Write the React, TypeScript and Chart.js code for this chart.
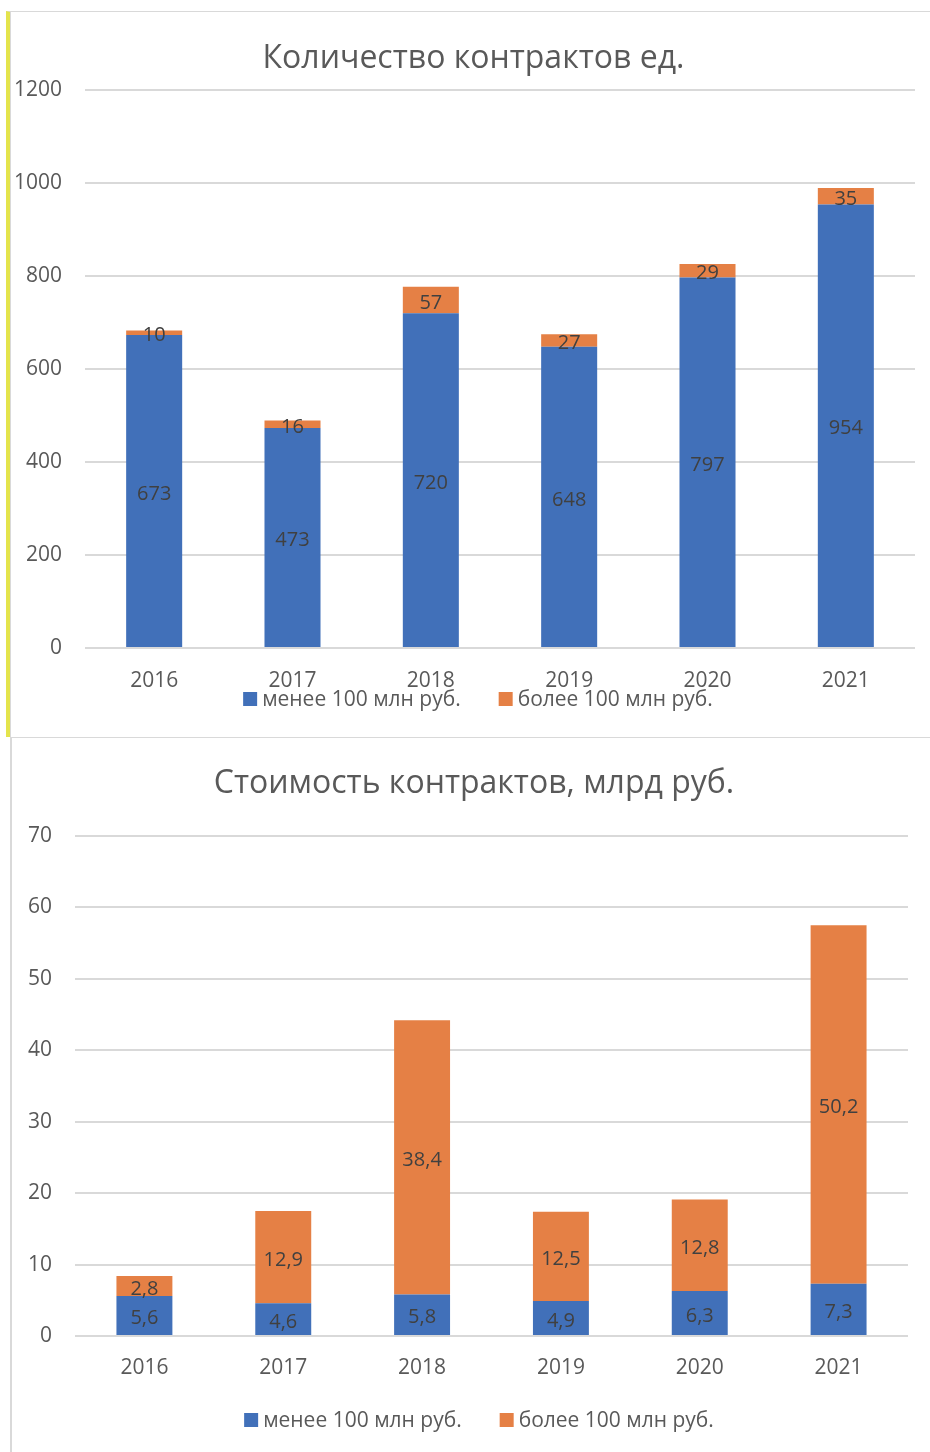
import React, { useEffect, useRef } from "react";
import { Chart, registerables } from "chart.js";

Chart.register(...registerables);

const years = ["2016", "2017", "2018", "2019", "2020", "2021"];
const seriesNames = ["менее 100 млн руб.", "более 100 млн руб."];
const countSmall = [673, 473, 720, 648, 797, 954];
const countLarge = [10, 16, 57, 27, 29, 35];
const valueSmall = [5.6, 4.6, 5.8, 4.9, 6.3, 7.3];
const valueLarge = [2.8, 12.9, 38.4, 12.5, 12.8, 50.2];
const titleCount = "Количество контрактов ед.";
const titleValue = "Стоимость контрактов, млрд руб.";

const BLUE = "#4170B9";
const ORANGE = "#E58045";
const TEXT = "#595959";
const LABEL = "#404040";
const GRID = "#d9d9d9";
const FONT = "'Open Sans', sans-serif";

function makeLabelPlugin(format: (v: number) => string) {
  return {
    id: "barLabels",
    afterDatasetsDraw(chart: any) {
      const ctx = chart.ctx;
      ctx.save();
      ctx.font = `20px ${FONT}`;
      ctx.fillStyle = LABEL;
      ctx.textAlign = "center";
      ctx.textBaseline = "middle";
      chart.data.datasets.forEach((ds: any, i: number) => {
        const meta = chart.getDatasetMeta(i);
        meta.data.forEach((bar: any, j: number) => {
          const { x, y, base } = bar.getProps(["x", "y", "base"], true);
          ctx.fillText(format(ds.data[j]), x, (y + base) / 2 + 3);
        });
      });
      ctx.restore();
    },
  };
}

function makeDecorPlugin(cfg: { title: string; titleX: number; titleY: number; legendX: number; legendY: number }) {
  return {
    id: "decor",
    afterDraw(chart: any) {
      const ctx = chart.ctx;
      ctx.save();
      ctx.font = `32px ${FONT}`;
      ctx.fillStyle = TEXT;
      ctx.textAlign = "center";
      ctx.textBaseline = "middle";
      ctx.fillText(cfg.title, cfg.titleX, cfg.titleY);

      ctx.font = `21px ${FONT}`;
      ctx.textAlign = "left";
      const items = chart.data.datasets.map((ds: any) => ({ text: ds.label, color: ds.backgroundColor }));
      const box = 14;
      const textGap = 5;
      const itemGap = 38;
      const widths = items.map((it: any) => box + textGap + ctx.measureText(it.text).width);
      const total = widths.reduce((a: number, b: number) => a + b, 0) + itemGap * (items.length - 1);
      let x = cfg.legendX - total / 2;
      items.forEach((it: any, i: number) => {
        ctx.fillStyle = it.color;
        ctx.fillRect(x, cfg.legendY - box / 2, box, box);
        ctx.fillStyle = TEXT;
        ctx.fillText(it.text, x + box + textGap, cfg.legendY + 1);
        x += widths[i] + itemGap;
      });
      ctx.restore();
    },
  };
}

function buildConfig(opts: {
  title: string;
  small: number[];
  large: number[];
  max: number;
  step: number;
  format: (v: number) => string;
  padT: number;
  padR: number;
  padB: number;
  yWidth: number;
  xPad: number;
  xHeight: number;
  barPct: number;
  titleX: number;
  titleY: number;
  legendX: number;
  legendY: number;
}): any {
  return {
    type: "bar",
    data: {
      labels: years,
      datasets: [
        { label: seriesNames[0], data: opts.small, backgroundColor: BLUE, barPercentage: opts.barPct, categoryPercentage: 1 },
        { label: seriesNames[1], data: opts.large, backgroundColor: ORANGE, barPercentage: opts.barPct, categoryPercentage: 1 },
      ],
    },
    options: {
      responsive: false,
      animation: false,
      layout: { padding: { left: 0, right: opts.padR, top: opts.padT, bottom: opts.padB } },
      plugins: {
        title: { display: false },
        legend: { display: false },
        tooltip: { enabled: false },
      },
      scales: {
        x: {
          stacked: true,
          grid: { display: false, drawTicks: false },
          border: { display: false },
          ticks: { color: TEXT, font: { family: FONT, size: 21 }, padding: opts.xPad },
          afterFit: (s: any) => {
            s.height = opts.xHeight;
          },
        },
        y: {
          stacked: true,
          min: 0,
          max: opts.max,
          ticks: {
            stepSize: opts.step,
            color: TEXT,
            font: { family: FONT, size: 21 },
            padding: 23,
            callback: (v: any) => String(v),
          },
          grid: { color: GRID, lineWidth: 2, drawTicks: false },
          border: { display: false },
          afterFit: (s: any) => {
            s.width = opts.yWidth;
          },
        },
      },
    },
    plugins: [
      makeLabelPlugin(opts.format),
      makeDecorPlugin({
        title: opts.title,
        titleX: opts.titleX,
        titleY: opts.titleY,
        legendX: opts.legendX,
        legendY: opts.legendY,
      }),
    ],
  };
}

export default function App() {
  const topRef = useRef<HTMLCanvasElement>(null);
  const botRef = useRef<HTMLCanvasElement>(null);

  useEffect(() => {
    const c1 = new Chart(
      topRef.current as HTMLCanvasElement,
      buildConfig({
        title: titleCount,
        small: countSmall,
        large: countLarge,
        max: 1200,
        step: 200,
        format: (v) => String(v),
        padT: 78,
        padR: 15,
        padB: 40,
        yWidth: 75,
        xPad: 20,
        xHeight: 47,
        barPct: 0.405,
        titleX: 463.5,
        titleY: 47,
        legendX: 468,
        legendY: 687,
      })
    );
    const c2 = new Chart(
      botRef.current as HTMLCanvasElement,
      buildConfig({
        title: titleValue,
        small: valueSmall,
        large: valueLarge,
        max: 70,
        step: 10,
        format: (v) => v.toFixed(1).replace(".", ","),
        padT: 97,
        padR: 22,
        padB: 69,
        yWidth: 64,
        xPad: 19,
        xHeight: 47,
        barPct: 0.403,
        titleX: 463,
        titleY: 45,
        legendX: 468,
        legendY: 681,
      })
    );
    return () => {
      c1.destroy();
      c2.destroy();
    };
  }, []);

  return (
    <div style={{ position: "absolute", left: 0, top: 0, width: 930, height: 1452, background: "#fff", overflow: "hidden" }}>
      <div
        style={{
          position: "absolute",
          left: 6,
          top: 11,
          width: 930,
          height: 726,
          borderTop: "1px solid #d9d9d9",
          borderLeft: "4px solid #e4e44c",
          boxSizing: "border-box",
        }}
      />
      <div style={{ position: "absolute", left: 10, top: 12, width: 1, height: 725, background: "#d9d9d9" }} />
      <div
        style={{
          position: "absolute",
          left: 10,
          top: 737,
          width: 930,
          height: 720,
          borderTop: "1px solid #d9d9d9",
          borderLeft: "2px solid #d9d9d9",
          boxSizing: "border-box",
        }}
      />
      <canvas
        ref={topRef}
        width={920}
        height={723}
        style={{ position: "absolute", left: 10, top: 12, width: 920, height: 723 }}
      />
      <canvas
        ref={botRef}
        width={919}
        height={713}
        style={{ position: "absolute", left: 11, top: 739, width: 919, height: 713 }}
      />
    </div>
  );
}
